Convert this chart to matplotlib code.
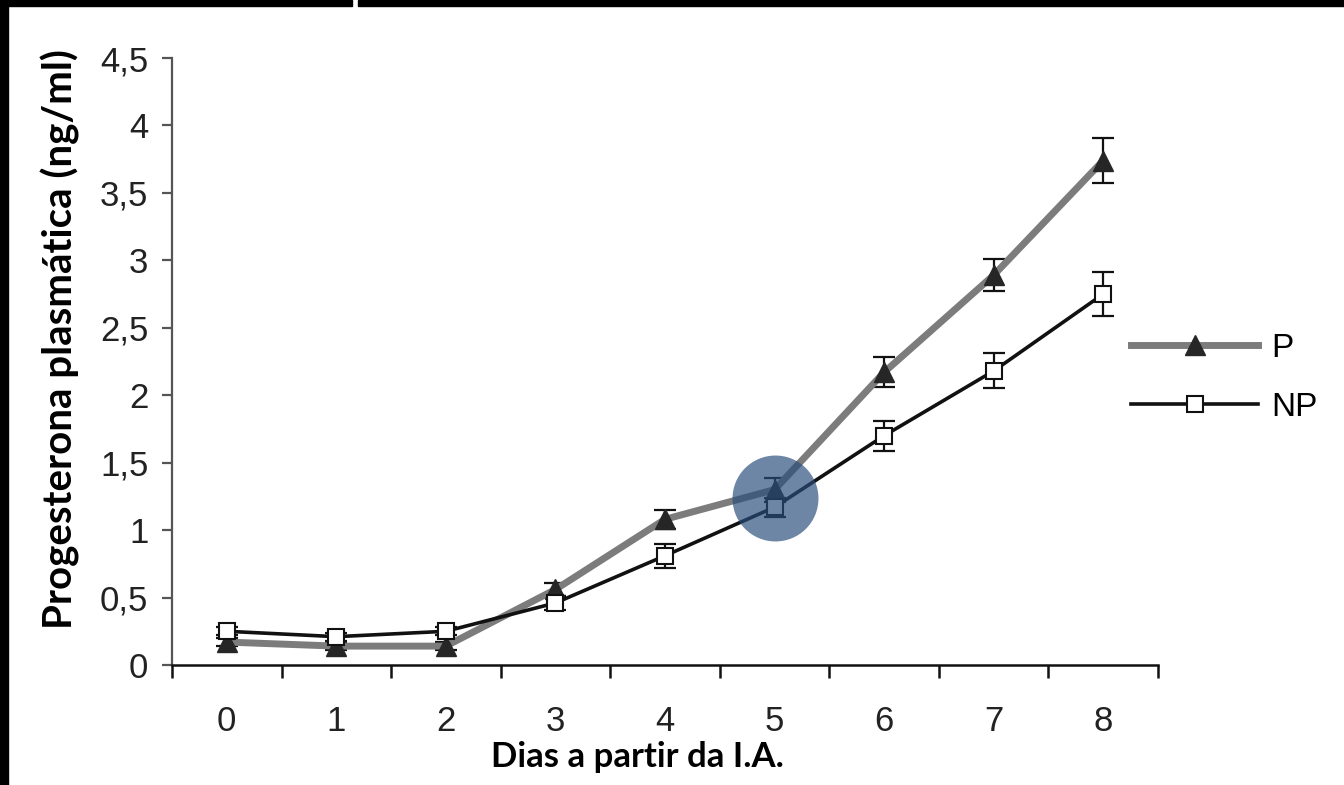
import numpy as np
import matplotlib.pyplot as plt
from matplotlib.patches import Rectangle

days = [0, 1, 2, 3, 4, 5, 6, 7, 8]
p_mean = [0.17, 0.14, 0.14, 0.56, 1.08, 1.30, 2.17, 2.89, 3.74]
p_err = [0.03, 0.03, 0.03, 0.05, 0.07, 0.09, 0.11, 0.12, 0.17]
np_mean = [0.25, 0.21, 0.25, 0.46, 0.81, 1.17, 1.70, 2.18, 2.75]
np_err = [0.03, 0.03, 0.03, 0.05, 0.09, 0.07, 0.11, 0.13, 0.16]
y_ticks = [0, 0.5, 1, 1.5, 2, 2.5, 3, 3.5, 4, 4.5]
y_labels = ['0', '0,5', '1', '1,5', '2', '2,5', '3', '3,5', '4', '4,5']
highlight_day = 5

fig = plt.figure(figsize=(13.44, 7.85), dpi=100)
ax = fig.add_axes([172/1344, 1-665/785, (1158-172)/1344, (665-58)/785])

# error bars first, then lines on top
ax.errorbar(days, p_mean, yerr=p_err, fmt='none', ecolor='#111111',
            elinewidth=1.6, capsize=8, capthick=1.6, zorder=2)
ax.errorbar(days, np_mean, yerr=np_err, fmt='none', ecolor='#111111',
            elinewidth=1.6, capsize=8, capthick=1.6, zorder=2)

lp, = ax.plot(days, p_mean, color='#7c7c7c', lw=5, marker='^', ms=15,
              mfc='#262626', mec='#262626', label='P', zorder=3)
lnp, = ax.plot(days, np_mean, color='#111111', lw=2.6, marker='s', ms=11,
               mfc='white', mec='#111111', mew=1.5, label='NP', zorder=4)

# highlight circle on day 5
i = days.index(highlight_day)
ax.scatter([days[i]], [(p_mean[i] + np_mean[i]) / 2], s=3830,
           color='#294d7c', alpha=0.68, lw=0, zorder=5)

ax.set_xlim(-0.5, 8.5)
ax.set_ylim(0, 4.5)
ax.spines['top'].set_visible(False)
ax.spines['right'].set_visible(False)
ax.spines['left'].set_color('#555555')
ax.spines['left'].set_linewidth(1.6)
ax.spines['bottom'].set_color('#111111')
ax.spines['bottom'].set_linewidth(1.8)

ax.set_yticks(y_ticks)
ax.set_yticklabels(y_labels, fontfamily='Liberation Sans', fontsize=25, color='#222222')
ax.tick_params(axis='y', length=7, width=1.6, color='#555555', pad=10)

ax.set_xticks(days)
ax.set_xticklabels([str(d) for d in days], fontfamily='Liberation Sans', fontsize=25, color='#222222')
ax.set_xticks(np.arange(-0.5, 9, 1), minor=True)
ax.tick_params(axis='x', which='major', length=0, pad=29)
ax.tick_params(axis='x', which='minor', length=9, width=1.8, color='#111111')

ax.legend(handles=[lp, lnp], loc='center left', bbox_to_anchor=(0.956, 0.473),
          frameon=False, handlelength=3.8, handletextpad=0.4, labelspacing=0.85,
          borderpad=0, prop={'family': 'Liberation Sans', 'size': 24})

fig.text(637/1344, 1-757/785, 'Dias a partir da I.A.', fontfamily='Lato',
         fontweight='bold', fontsize=25, ha='center', va='center')
fig.text(60/1344, 1-339/785, 'Progesterona plasmática (ng/ml)', fontfamily='Lato',
         fontweight='bold', fontsize=29, ha='center', va='center', rotation=90)

# black frame pieces at top and left
fig.patches.append(Rectangle((0, 1-6/785), 352/1344, 6/785, transform=fig.transFigure,
                             color='black', zorder=10))
fig.patches.append(Rectangle((358/1344, 1-6/785), 1-358/1344, 6/785, transform=fig.transFigure,
                             color='black', zorder=10))
fig.patches.append(Rectangle((0, 0), 8/1344, 1, transform=fig.transFigure,
                             color='black', zorder=10))

fig.savefig('out.png', dpi=100)
